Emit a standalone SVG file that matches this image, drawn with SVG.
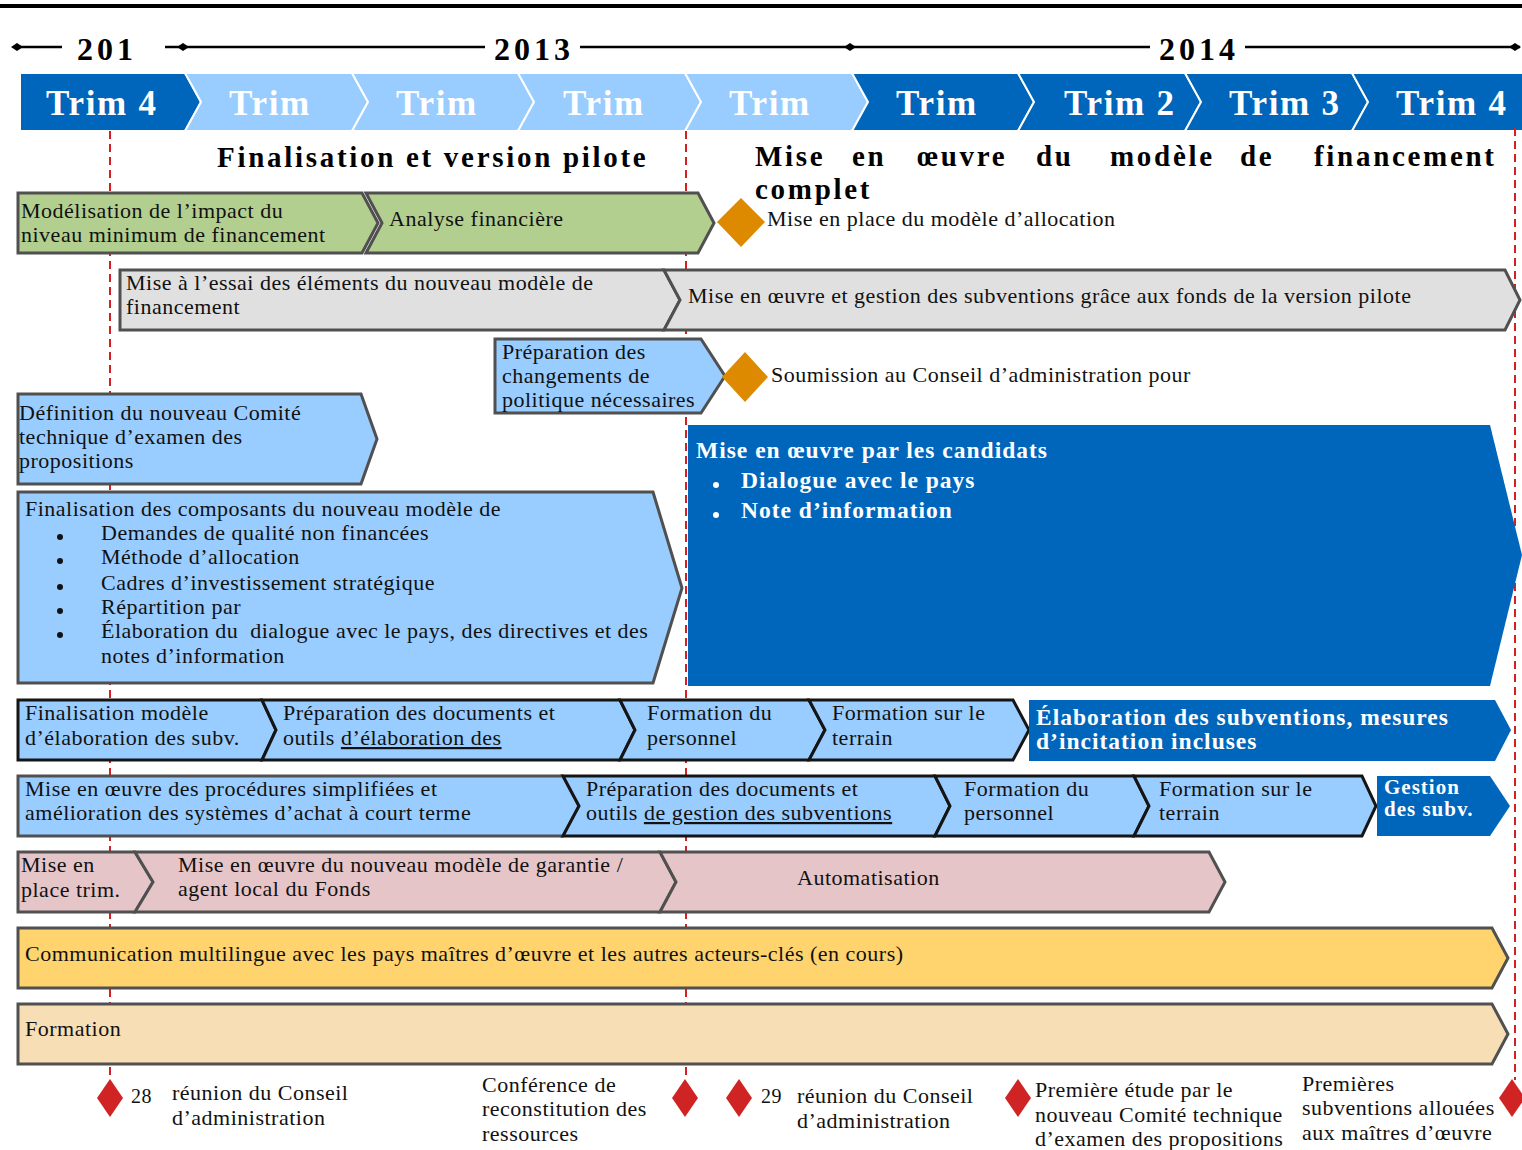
<svg xmlns="http://www.w3.org/2000/svg" width="1522" height="1150" viewBox="0 0 1522 1150">
<defs>
<style>
text{font-family:"Liberation Serif","DejaVu Serif",serif;}
.t{font-size:22px;fill:#111;letter-spacing:0.5px;}
.tb{font-size:23.5px;fill:#fff;font-weight:bold;letter-spacing:1px;}
.hdr{font-size:35px;fill:#fff;font-weight:bold;letter-spacing:1.7px;}
.yr{font-size:32px;fill:#000;font-weight:bold;letter-spacing:4px;}
.sec{font-size:29px;fill:#000;font-weight:bold;letter-spacing:2.7px;}
.g{stroke:#505050;stroke-width:3;stroke-linejoin:miter;}
.k{stroke:#151515;stroke-width:3;stroke-linejoin:miter;}
.lb{fill:#99CCFF;}
.db{fill:#0066BB;}
.red{fill:#D02424;}
.org{fill:#DE8A00;}
.u{text-decoration:underline;}
</style>
</defs>
<rect x="0" y="4" width="1522" height="4" fill="#000"/>
<g id="years" stroke="#000" stroke-width="2.5">
<line x1="15" y1="47" x2="62" y2="47"/>
<line x1="165" y1="47" x2="485" y2="47"/>
<line x1="580" y1="47" x2="1150" y2="47"/>
<line x1="1245" y1="47" x2="1520" y2="47"/>
<polygon points="11,47 17,43 23,47 17,51" fill="#000" stroke="none"/>
<polygon points="177,47 183,43 189,47 183,51" fill="#000" stroke="none"/>
<polygon points="844,47 850,43 856,47 850,51" fill="#000" stroke="none"/>
<polygon points="1509,47 1515,43 1521,47 1515,51" fill="#000" stroke="none"/>
</g>
<text class="yr" x="77" y="60">201</text>
<text class="yr" x="494" y="60">2013</text>
<text class="yr" x="1159" y="60">2014</text>
<g id="quarters" stroke="#fff" stroke-width="2">
<polygon class="db" points="20,73 185,73 201,102 185,131 20,131"/>
<polygon class="lb" points="185,73 352,73 368,102 352,131 185,131 201,102"/>
<polygon class="lb" points="352,73 518,73 534,102 518,131 352,131 368,102"/>
<polygon class="lb" points="518,73 685,73 701,102 685,131 518,131 534,102"/>
<polygon class="lb" points="685,73 852,73 868,102 852,131 685,131 701,102"/>
<polygon class="db" points="852,73 1018,73 1034,102 1018,131 852,131 868,102"/>
<polygon class="db" points="1018,73 1185,73 1201,102 1185,131 1018,131 1034,102"/>
<polygon class="db" points="1185,73 1352,73 1368,102 1352,131 1185,131 1201,102"/>
<polygon class="db" points="1352,73 1540,73 1556,102 1540,131 1352,131 1368,102"/>
</g>
<g id="quarter-labels">
<text class="hdr" x="46" y="115">Trim 4</text>
<text class="hdr" x="229" y="115">Trim</text>
<text class="hdr" x="396" y="115">Trim</text>
<text class="hdr" x="563" y="115">Trim</text>
<text class="hdr" x="729" y="115">Trim</text>
<text class="hdr" x="896" y="115">Trim</text>
<text class="hdr" x="1064" y="115">Trim 2</text>
<text class="hdr" x="1229" y="115">Trim 3</text>
<text class="hdr" x="1396" y="115">Trim 4</text>
</g>
<g id="connectors" stroke="#D42020" stroke-width="2" stroke-dasharray="8 5" fill="none">
<line x1="110" y1="131" x2="110" y2="1080"/>
<line x1="686" y1="131" x2="686" y2="1080"/>
<line x1="1515" y1="128" x2="1515" y2="1080"/>
</g>
<g id="phase-titles">
<text class="sec" x="217" y="167">Finalisation et version pilote</text>
<text class="sec" y="166"><tspan x="755">Mise</tspan><tspan x="852">en</tspan><tspan x="917">œuvre</tspan><tspan x="1036">du</tspan><tspan x="1110">modèle</tspan><tspan x="1240">de</tspan><tspan x="1314">financement</tspan></text>
<text class="sec" x="755" y="199">complet</text>
</g>
<g id="n-modelisation">
<polygon class="g" fill="#B3CF8F" points="18,193 362,193 378,223 362,253 18,253"/>
<text class="t" x="21" y="218">Modélisation de l’impact du</text>
<text class="t" x="21" y="242">niveau minimum de financement</text>
</g>
<g id="n-analyse">
<polygon class="g" fill="#B3CF8F" points="366,193 698,193 714,223 698,253 366,253 382,223"/>
<text class="t" x="389" y="226">Analyse financière</text>
</g>
<g id="m-allocation">
<polygon class="org" points="741,198 765,222 741,247 717,222"/>
<text class="t" x="767" y="226">Mise en place du modèle d’allocation</text>
</g>
<g id="n-essai">
<polygon class="g" fill="#E0E0E0" points="120,270 664,270 680,300 664,330 120,330"/>
<text class="t" x="126" y="290">Mise à l’essai des éléments du nouveau modèle de</text>
<text class="t" x="126" y="314">financement</text>
</g>
<g id="n-gestion-pilote">
<polygon class="g" fill="#E0E0E0" points="664,270 1505,270 1520,300 1505,330 664,330 680,300"/>
<text class="t" x="688" y="303">Mise en œuvre et gestion des subventions grâce aux fonds de la version pilote</text>
</g>
<g id="n-preparation-politique">
<polygon class="g lb" points="495,339 701,339 725,376 701,413 495,413"/>
<text class="t" x="502" y="359">Préparation des</text>
<text class="t" x="502" y="383">changements de</text>
<text class="t" x="502" y="407">politique nécessaires</text>
</g>
<g id="m-soumission">
<polygon class="org" points="745,352 768,377 745,402 722,377"/>
<text class="t" x="771" y="382">Soumission au Conseil d’administration pour</text>
</g>
<g id="n-definition">
<polygon class="g lb" points="18,394 361,394 377,439 361,484 18,484"/>
<text class="t" x="19" y="420">Définition du nouveau Comité</text>
<text class="t" x="19" y="444">technique d’examen des</text>
<text class="t" x="19" y="468">propositions</text>
</g>
<g id="n-composants">
<polygon class="g lb" points="18,492 653,492 682,588 653,683 18,683"/>
<text class="t" x="25" y="516">Finalisation des composants du nouveau modèle de</text>
<g fill="#111">
<circle cx="60" cy="537" r="3"/><circle cx="60" cy="561" r="3"/><circle cx="60" cy="587" r="3"/><circle cx="60" cy="611" r="3"/><circle cx="60" cy="635" r="3"/>
</g>
<text class="t" x="101" y="540">Demandes de qualité non financées</text>
<text class="t" x="101" y="564">Méthode d’allocation</text>
<text class="t" x="101" y="590">Cadres d’investissement stratégique</text>
<text class="t" x="101" y="614">Répartition par</text>
<text class="t" x="101" y="638">Élaboration du&#160; dialogue avec le pays, des directives et des</text>
<text class="t" x="101" y="663">notes d’information</text>
</g>
<g id="n-candidats">
<polygon class="db" points="688,425 1490,425 1522,555 1490,686 688,686"/>
<text class="tb" x="696" y="458">Mise en œuvre par les candidats</text>
<circle cx="716" cy="485" r="3" fill="#fff"/>
<circle cx="716" cy="515" r="3" fill="#fff"/>
<text class="tb" x="741" y="488">Dialogue avec le pays</text>
<text class="tb" x="741" y="518">Note d’information</text>
</g>
<g id="n-finalisation-modele">
<polygon class="k lb" points="18,700 262,700 276,730 262,760 18,760"/>
<text class="t" x="25" y="720">Finalisation modèle</text>
<text class="t" x="25" y="745">d’élaboration des subv.</text>
</g>
<g id="n-prep-elaboration">
<polygon class="k lb" points="262,700 620,700 635,730 620,760 262,760 276,730"/>
<text class="t" x="283" y="720">Préparation des documents et</text>
<text class="t" x="283" y="745">outils <tspan class="u">d’élaboration des</tspan></text>
</g>
<g id="n-formation-personnel-1">
<polygon class="k lb" points="620,700 809,700 825,730 809,760 620,760 635,730"/>
<text class="t" x="647" y="720">Formation du</text>
<text class="t" x="647" y="745">personnel</text>
</g>
<g id="n-formation-terrain-1">
<polygon class="k lb" points="809,700 1013,700 1029,730 1013,760 809,760 825,730"/>
<text class="t" x="832" y="720">Formation sur le</text>
<text class="t" x="832" y="745">terrain</text>
</g>
<g id="n-elaboration-subv">
<polygon class="db" points="1029,700 1495,700 1511,730 1495,761 1029,761"/>
<text class="tb" x="1036" y="725">Élaboration des subventions, mesures</text>
<text class="tb" x="1036" y="749">d’incitation incluses</text>
</g>
<g id="n-procedures">
<polygon class="g lb" points="18,776 563,776 579,806 563,836 18,836"/>
<text class="t" x="25" y="796">Mise en œuvre des procédures simplifiées et</text>
<text class="t" x="25" y="820">amélioration des systèmes d’achat à court terme</text>
</g>
<g id="n-prep-gestion">
<polygon class="k lb" points="563,776 935,776 950,806 935,836 563,836 579,806"/>
<text class="t" x="586" y="796">Préparation des documents et</text>
<text class="t" x="586" y="820">outils <tspan class="u">de gestion des subventions</tspan></text>
</g>
<g id="n-formation-personnel-2">
<polygon class="k lb" points="935,776 1134,776 1149,806 1134,836 935,836 950,806"/>
<text class="t" x="964" y="796">Formation du</text>
<text class="t" x="964" y="820">personnel</text>
</g>
<g id="n-formation-terrain-2">
<polygon class="k lb" points="1134,776 1362,776 1376,806 1362,836 1134,836 1149,806"/>
<text class="t" x="1159" y="796">Formation sur le</text>
<text class="t" x="1159" y="820">terrain</text>
</g>
<g id="n-gestion-subv">
<polygon class="db" points="1377,776 1490,776 1510,806 1490,836 1377,836"/>
<text class="tb" x="1384" y="794" style="font-size:21px">Gestion</text>
<text class="tb" x="1384" y="816" style="font-size:21px">des subv.</text>
</g>
<g id="n-mise-place">
<polygon class="g" fill="#E6C5C8" points="18,852 135,852 153,882 135,912 18,912"/>
<text class="t" x="21" y="872">Mise en</text>
<text class="t" x="21" y="897">place trim.</text>
</g>
<g id="n-garantie">
<polygon class="g" fill="#E6C5C8" points="135,852 660,852 676,882 660,912 135,912 153,882"/>
<text class="t" x="178" y="872">Mise en œuvre du nouveau modèle de garantie /</text>
<text class="t" x="178" y="896">agent local du Fonds</text>
</g>
<g id="n-automatisation">
<polygon class="g" fill="#E6C5C8" points="660,852 1209,852 1225,882 1209,912 660,912 676,882"/>
<text class="t" x="797" y="885">Automatisation</text>
</g>
<g id="n-communication">
<polygon class="g" fill="#FFD36E" points="18,928 1492,928 1508,958 1492,988 18,988"/>
<text class="t" x="25" y="961">Communication multilingue avec les pays maîtres d’œuvre et les autres acteurs-clés (en cours)</text>
</g>
<g id="n-formation">
<polygon class="g" fill="#F7DEB5" points="18,1004 1492,1004 1508,1034 1492,1064 18,1064"/>
<text class="t" x="25" y="1036">Formation</text>
</g>
<g id="m-28">
<polygon class="red" points="110,1079 123,1098 110,1117 97,1098"/>
<text class="t" x="131" y="1103" style="font-size:20px">28</text>
<text class="t" x="172" y="1100">réunion du Conseil</text>
<text class="t" x="172" y="1125">d’administration</text>
</g>
<g id="m-conference">
<text class="t" x="482" y="1092">Conférence de</text>
<text class="t" x="482" y="1116">reconstitution des</text>
<text class="t" x="482" y="1141">ressources</text>
<polygon class="red" points="685,1079 698,1098 685,1117 672,1098"/>
</g>
<g id="m-29">
<polygon class="red" points="739,1079 752,1098 739,1117 726,1098"/>
<text class="t" x="761" y="1103" style="font-size:20px">29</text>
<text class="t" x="797" y="1103">réunion du Conseil</text>
<text class="t" x="797" y="1128">d’administration</text>
</g>
<g id="m-premiere-etude">
<polygon class="red" points="1018,1079 1031,1098 1018,1117 1005,1098"/>
<text class="t" x="1035" y="1097">Première étude par le</text>
<text class="t" x="1035" y="1122">nouveau Comité technique</text>
<text class="t" x="1035" y="1146">d’examen des propositions</text>
</g>
<g id="m-premieres-subv">
<text class="t" x="1302" y="1091">Premières</text>
<text class="t" x="1302" y="1115">subventions allouées</text>
<text class="t" x="1302" y="1140">aux maîtres d’œuvre</text>
<polygon class="red" points="1512,1079 1525,1098 1512,1117 1499,1098"/>
</g>
</svg>
